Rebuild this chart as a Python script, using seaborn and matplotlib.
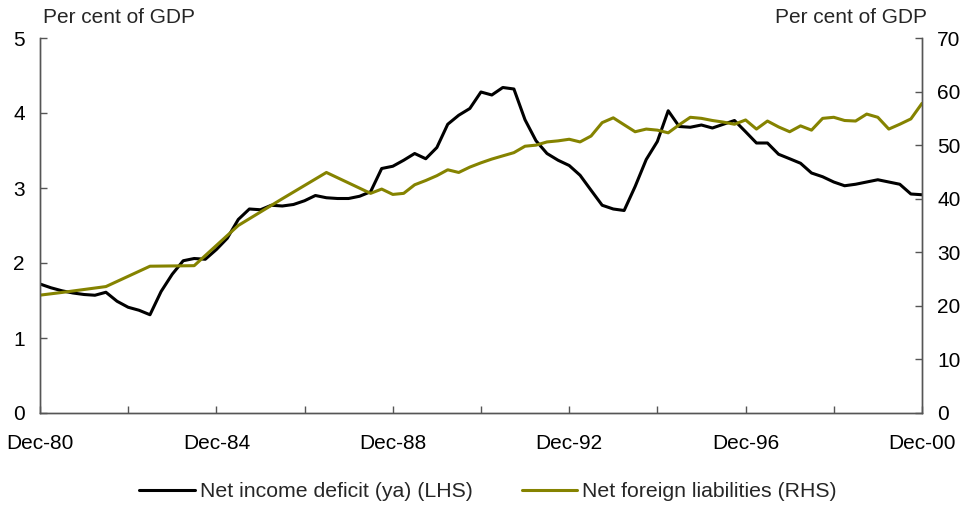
import pandas as pd
import numpy as np
import matplotlib
matplotlib.use('Agg')
import matplotlib.pyplot as plt
import matplotlib.dates as mdates
from matplotlib.ticker import FixedLocator
import seaborn as sns

sns.set_style('white')
plt.rcParams['font.family'] = ['Liberation Sans', 'DejaVu Sans']

# Net income deficit (ya), quarterly Dec-80 .. Dec-00, per cent of GDP (LHS)
income_dates = pd.date_range('1980-12-31', '2000-12-31', freq='QE-DEC')
income_deficit = [1.72, 1.67, 1.63, 1.60, 1.58, 1.57, 1.61, 1.49, 1.41, 1.37,
                  1.31, 1.62, 1.85, 2.03, 2.06, 2.05, 2.18, 2.33, 2.58, 2.72,
                  2.71, 2.77, 2.76, 2.78, 2.83, 2.90, 2.87, 2.86, 2.86, 2.89,
                  2.95, 3.26, 3.29, 3.37, 3.46, 3.39, 3.54, 3.85, 3.97, 4.06,
                  4.28, 4.24, 4.34, 4.32, 3.91, 3.63, 3.46, 3.37, 3.30, 3.17,
                  2.97, 2.77, 2.72, 2.70, 3.02, 3.38, 3.62, 4.03, 3.82, 3.81,
                  3.84, 3.80, 3.85, 3.90, 3.75, 3.60, 3.60, 3.45, 3.39, 3.33,
                  3.20, 3.15, 3.08, 3.03, 3.05, 3.08, 3.11, 3.08, 3.05, 2.92,
                  2.91]

# Net foreign liabilities, per cent of GDP (RHS): annual (June) early, then quarterly
nfl_dates_early = ['1980-12-31', '1981-06-30', '1982-06-30', '1983-06-30',
                   '1984-06-30', '1985-06-30', '1986-06-30', '1987-06-30']
nfl_early = [22.0, 22.5, 23.6, 27.4, 27.5, 35.0, 40.0, 44.9]
nfl_dates_late = pd.date_range('1988-06-30', '2000-12-31', freq='QE-DEC')
nfl_late = [41.0, 41.8, 40.8, 41.0, 42.6, 43.4, 44.3, 45.4, 44.9, 45.9,
            46.7, 47.4, 48.0, 48.6, 49.8, 50.0, 50.6, 50.8, 51.1, 50.6,
            51.7, 54.2, 55.1, 53.8, 52.5, 53.0, 52.8, 52.3, 53.8, 55.2,
            55.0, 54.6, 54.3, 53.9, 54.7, 53.0, 54.5, 53.4, 52.5, 53.6,
            52.8, 55.0, 55.2, 54.6, 54.5, 55.8, 55.2, 53.0, 53.9, 54.9,
            57.8]

tick_years = list(range(1980, 2001, 2))
tick_labels = ['Dec-%02d' % (y % 100) if (y - 1980) % 4 == 0 else '' for y in tick_years]

income = pd.DataFrame({'date': income_dates, 'value': income_deficit})
nfl = pd.DataFrame({'date': list(pd.to_datetime(nfl_dates_early)) + list(nfl_dates_late),
                    'value': nfl_early + nfl_late})

black = '#000000'
olive = '#858300'
spine_col = '#555555'
fs = 15

fig = plt.figure(figsize=(9.68, 5.08), dpi=100)
ax = fig.add_axes([40 / 968, 1 - 413 / 508, 882 / 968, 375 / 508])
ax2 = ax.twinx()

sns.lineplot(data=income, x='date', y='value', ax=ax, color=black, lw=2.2,
             label='Net income deficit (ya) (LHS)', legend=False)
sns.lineplot(data=nfl, x='date', y='value', ax=ax2, color=olive, lw=2.2,
             label='Net foreign liabilities (RHS)', legend=False)

xmin = pd.Timestamp('1980-12-31')
xmax = pd.Timestamp('2000-12-31')
ax.set_xlim(xmin, xmax)
ax.set_ylim(0, 5)
ax2.set_ylim(0, 70)
ax.set_yticks(range(0, 6))
ax2.set_yticks(range(0, 71, 10))

ticks = [mdates.date2num(pd.Timestamp('%d-12-31' % y)) for y in tick_years]
ax.xaxis.set_major_locator(FixedLocator(ticks))
ax.set_xticklabels(tick_labels)

ax.set_xlabel('')
ax.set_ylabel('')
ax2.set_ylabel('')

for a in (ax, ax2):
    for s in a.spines.values():
        s.set_color(spine_col)
        s.set_linewidth(1.0)
    a.spines['top'].set_visible(False)
    a.tick_params(direction='in', length=5, width=1, color=spine_col,
                  labelsize=fs, labelcolor='#000000')
ax.tick_params(axis='y', pad=11, left=True, right=False)
ax.tick_params(axis='x', pad=15, bottom=True)
ax2.tick_params(axis='y', pad=11, right=True, left=False)

fig.text(43 / 968, 1 - 8 / 508, 'Per cent of GDP', fontsize=fs, ha='left', va='top')
fig.text(927 / 968, 1 - 8 / 508, 'Per cent of GDP', fontsize=fs, ha='right', va='top')

h1, l1 = ax.get_legend_handles_labels()
h2, l2 = ax2.get_legend_handles_labels()
fig.legend(h1 + h2, l1 + l2, loc='center', bbox_to_anchor=(488 / 968, 1 - 492 / 508),
           ncol=2, frameon=False, fontsize=fs + 0.3, handlelength=2.6, handletextpad=0.25,
           columnspacing=2.3)

fig.savefig('out.png', dpi=100)
